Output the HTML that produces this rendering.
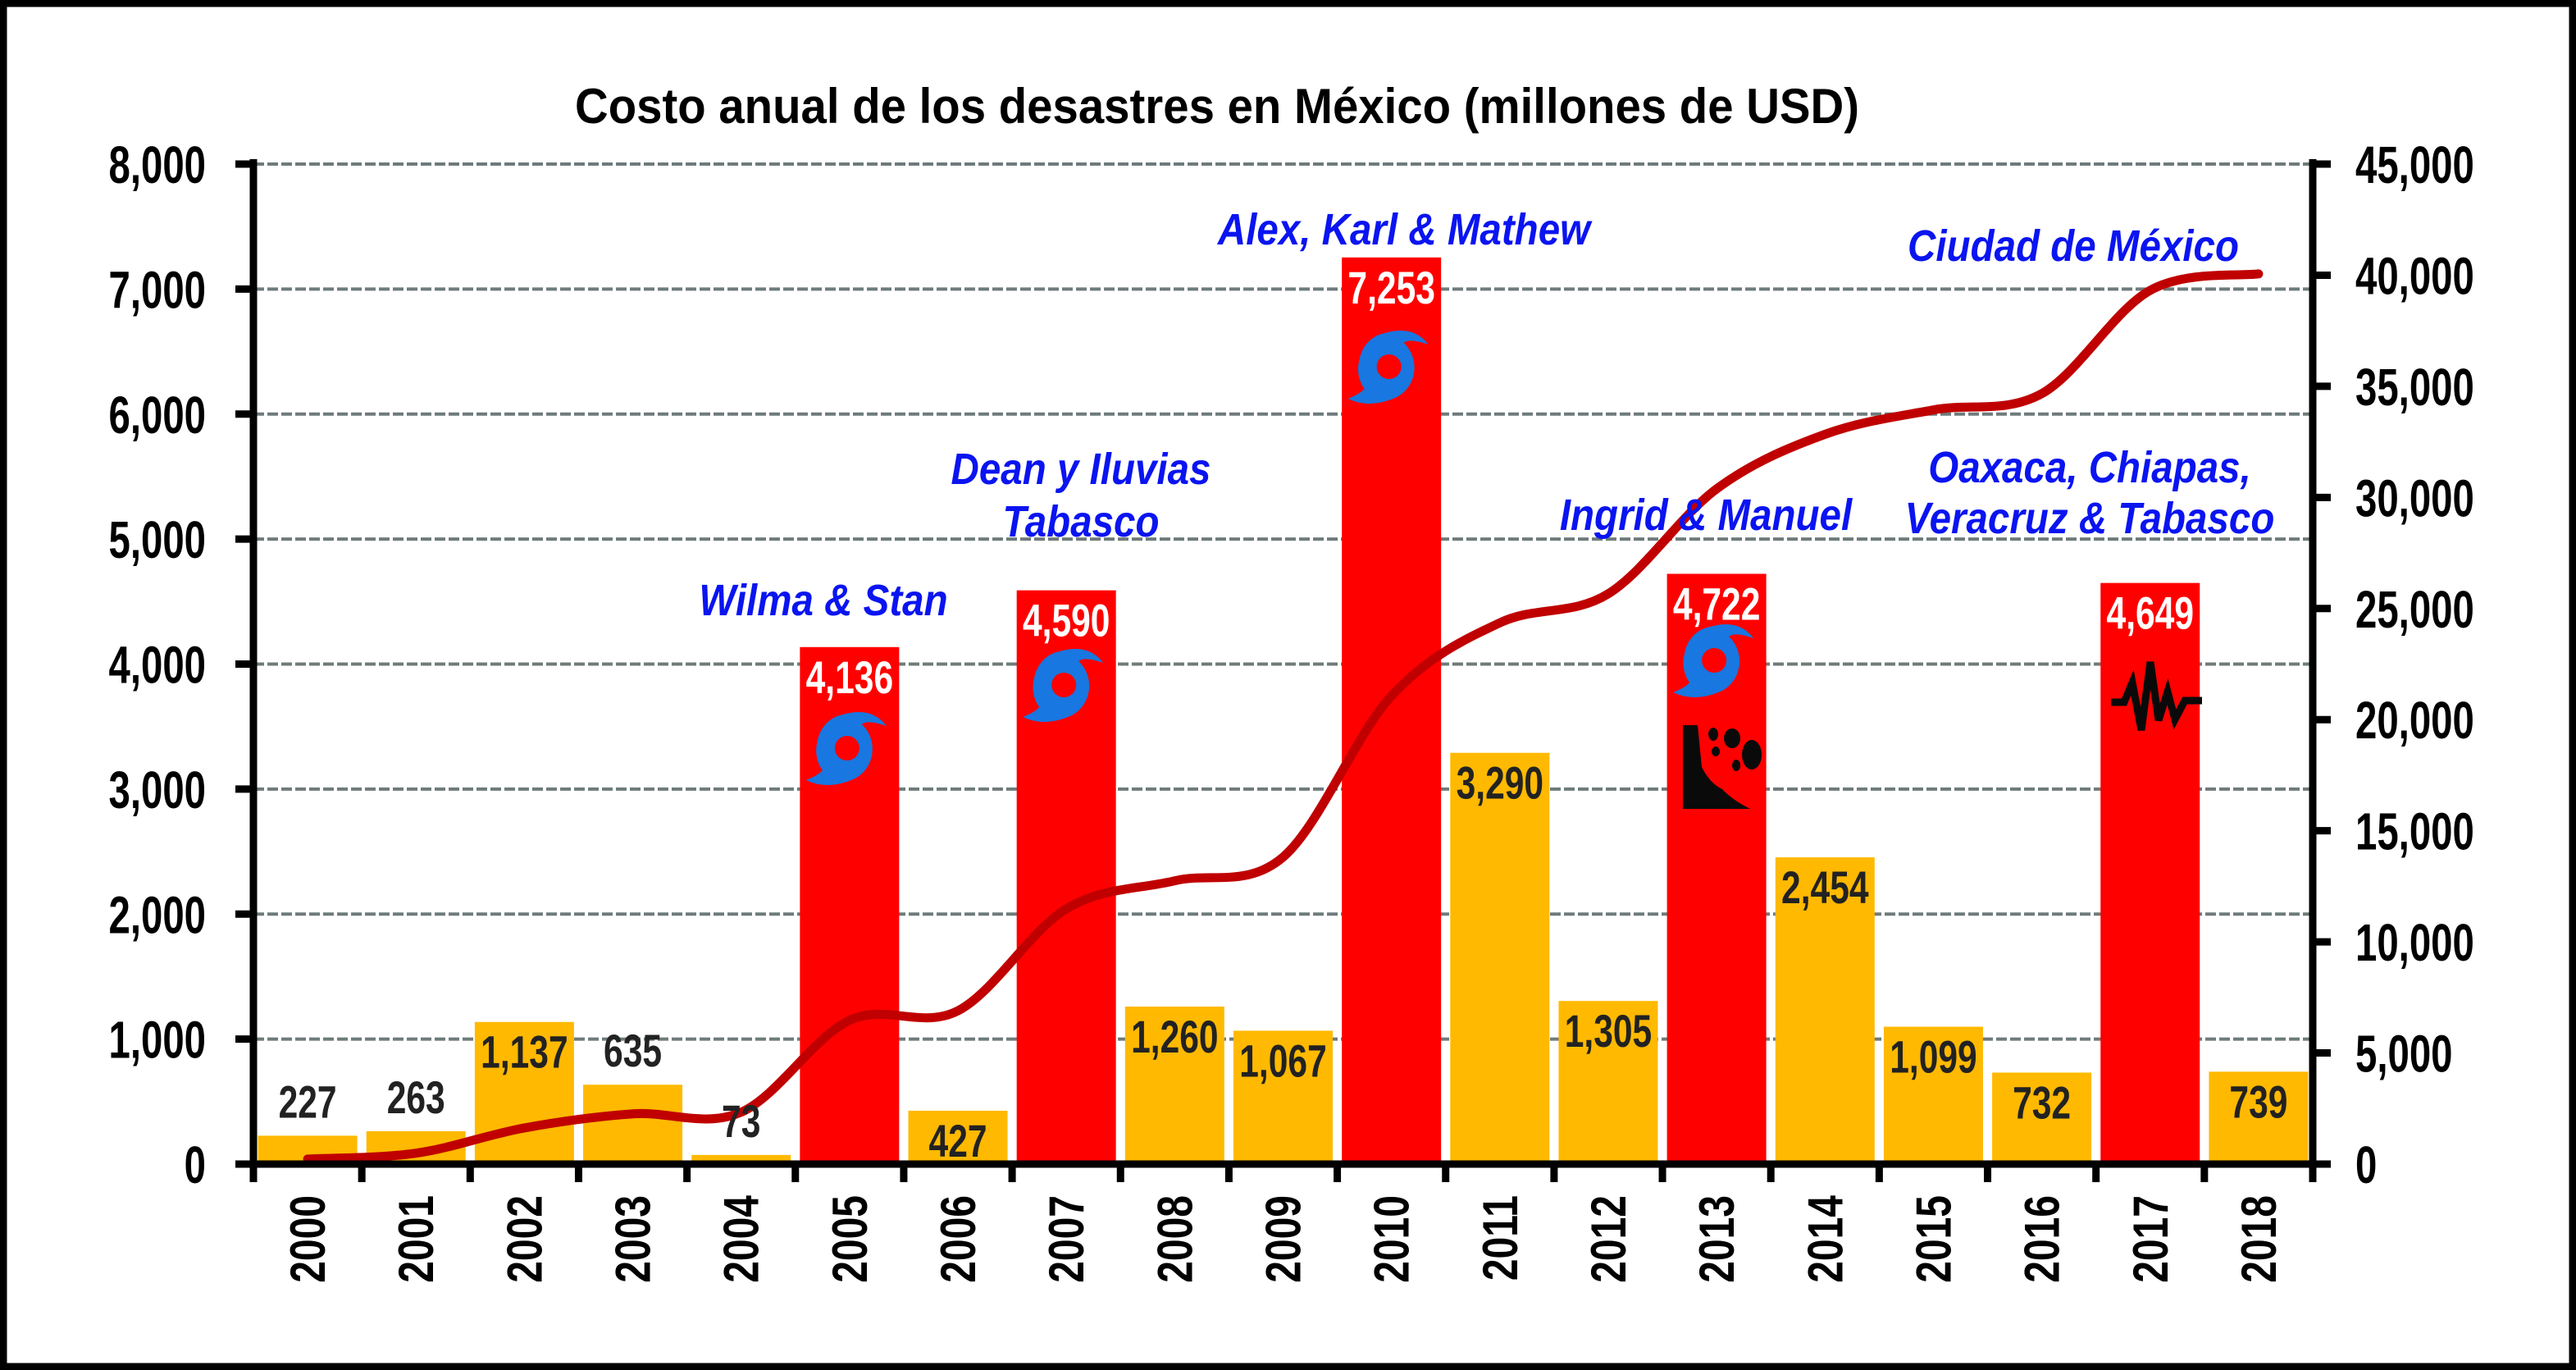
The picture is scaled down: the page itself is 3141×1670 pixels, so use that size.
<!DOCTYPE html>
<html><head><meta charset="utf-8"><style>
html,body{margin:0;padding:0;background:#fff;}
svg{display:block;}
text{font-family:"Liberation Sans",Arial,sans-serif;font-weight:bold;}
</style></head><body>
<svg id="chart" width="3141" height="1670" viewBox="0 0 3141 1670" xmlns="http://www.w3.org/2000/svg">
<rect x="4" y="4" width="3133" height="1662" fill="#fff" stroke="#000" stroke-width="9"/>
<text x="1484" y="150" font-size="60" text-anchor="middle" textLength="1566" lengthAdjust="spacingAndGlyphs">Costo anual de los desastres en México (millones de USD)</text>
<g id="grid"></g><g id="bars"></g><g id="line"></g><g id="axes"></g><g id="labels"></g><g id="icons"></g><g id="notes"></g>
</svg>
<script>
const years=["2000","2001","2002","2003","2004","2005","2006","2007","2008","2009","2010","2011","2012","2013","2014","2015","2016","2017","2018"];
const costs=[227,263,1137,635,73,4136,427,4590,1260,1067,7253,3290,1305,4722,2454,1099,732,4649,739];
const majorEvent=[0,0,0,0,0,1,0,1,0,0,1,0,0,1,0,0,0,1,0];
const labelAbove=[1,1,0,1,1,0,0,0,0,0,0,0,0,0,0,0,0,0,0];
const cumulative=[227,490,1627,2262,2335,6471,6898,11488,12748,13815,21068,24358,25663,30385,32839,33938,34670,39319,40058];
const leftTicks=[0,1000,2000,3000,4000,5000,6000,7000,8000];
const rightTicks=[0,5000,10000,15000,20000,25000,30000,35000,40000,45000];

const NS="http://www.w3.org/2000/svg";
const X0=309,X1=2820,Y0=1419,YT=200;
const cw=(X1-X0)/years.length;
const xc=i=>X0+cw*(i+0.5);
const yL=v=>Y0-(Y0-YT)*v/8000;
const yR=v=>Y0-(Y0-YT)*v/45000;
const fmt=v=>v.toLocaleString('en-US');
function mk(tag,attrs,parent){const e=document.createElementNS(NS,tag);for(const k in attrs)e.setAttribute(k,attrs[k]);document.getElementById(parent).appendChild(e);return e;}
function txt(parent,x,y,s,size,anchor,fill,sx,extra){const t=mk('text',Object.assign({transform:`translate(${x},${y}) scale(${sx},1)`,'font-size':size,'text-anchor':anchor,fill:fill},extra||{}),parent);t.textContent=s;return t;}

leftTicks.forEach(v=>{if(v===0)return;const g=mk('line',{x1:X0,x2:X1,y1:yL(v),y2:yL(v),stroke:'#6f7b7b','stroke-width':4,'stroke-dasharray':'13 4'},'grid');

});

costs.forEach((v,i)=>{const bw=121;const r=mk('rect',{x:xc(i)-bw/2,y:yL(v),width:bw,height:Y0-yL(v),fill:majorEvent[i]?'#ff0000':'#ffb900'},'bars');


let ly=labelAbove[i]?yL(v)-22:yL(v)+56;
const t=txt('labels',xc(i),ly,fmt(v),56,'middle',majorEvent[i]?'#fff':'#222',0.76);

});

const pts=cumulative.map((v,i)=>[xc(i),yR(v)]);
let d=`M${pts[0][0]},${pts[0][1]}`;
for(let i=0;i<pts.length-1;i++){const p0=pts[Math.max(0,i-1)],p1=pts[i],p2=pts[i+1],p3=pts[Math.min(pts.length-1,i+2)];
const c1=[p1[0]+(p2[0]-p0[0])/6,p1[1]+(p2[1]-p0[1])/6],c2=[p2[0]-(p3[0]-p1[0])/6,p2[1]-(p3[1]-p1[1])/6];
d+=` C${c1[0]},${c1[1]} ${c2[0]},${c2[1]} ${p2[0]},${p2[1]}`;}
const ln=mk('path',{d:d,fill:'none',stroke:'#c00000','stroke-width':11,'stroke-linecap':'round'},'line');



const ax=[['left-axis',X0,YT-6,X0,Y0+4],['right-axis',X1,YT-6,X1,Y0+4],['x-axis',X0-20,Y0,X1+4,Y0]];
ax.forEach(a=>{const l=mk('line',{x1:a[1],y1:a[2],x2:a[3],y2:a[4],stroke:'#000','stroke-width':9},'axes');

});
leftTicks.forEach(v=>{mk('line',{x1:X0-22,x2:X0,y1:yL(v),y2:yL(v),stroke:'#000','stroke-width':9},'axes');
const t=txt('labels',X0-58,yL(v)+23,fmt(v),64,'end','#000',0.74);

});
rightTicks.forEach(v=>{mk('line',{x1:X1,x2:X1+22,y1:yR(v),y2:yR(v),stroke:'#000','stroke-width':9},'axes');
const t=txt('labels',X1+52,yR(v)+23,fmt(v),64,'start','#000',0.74);

});
for(let i=0;i<=years.length;i++){mk('line',{x1:X0+cw*i,x2:X0+cw*i,y1:Y0,y2:Y0+22,stroke:'#000','stroke-width':9},'axes');}
years.forEach((y,i)=>{const t=mk('text',{transform:`translate(${xc(i)+21},1457) rotate(-90) scale(0.8,1)`,'font-size':60,'text-anchor':'end',fill:'#000'},'labels');t.textContent=y;

});

const notes=[["Wilma & Stan",1004,750],["Dean y Iluvias",1318,590],["Tabasco",1318,654],["Alex, Karl & Mathew",1712,298],["Ciudad de México",2528,318],["Ingrid & Manuel",2080,646],["Oaxaca, Chiapas,",2548,588],["Veracruz & Tabasco",2548,650]];
notes.forEach((n,k)=>{const t=txt('notes',n[1],n[2],n[0],54,'middle','#0a14f0',0.88,{'font-style':'italic'});

});

function hurricane(cx,cy,k){const g=mk('g',{transform:`translate(${cx},${cy})`},'icons');


const s=document.createElementNS(NS,'path');s.setAttribute('fill','#1877e0');
s.setAttribute('d','M-36,-10 A38,40 0 0 1 -5,-42 Q30,-52 48,-28 Q25,-36 18,-30 A38,40 0 0 1 5,38 Q-25,50 -50,38 Q-35,32 -30,26 A38,40 0 0 1 -36,-10 Z');g.appendChild(s);
const c=document.createElementNS(NS,'circle');c.setAttribute('r',15);c.setAttribute('cx',0);c.setAttribute('cy',-1);c.setAttribute('fill','#ff0000');g.appendChild(c);}
hurricane(xc(5)-3,913,1);hurricane(xc(7)-3,836,2);hurricane(xc(10)-3,448,3);hurricane(xc(13)-3,806,4);
const ls=mk('path',{fill:'#0a0a0a',d:'M2052,884 L2070,884 L2075,935 Q2085,955 2100,962 Q2112,975 2134,986 L2052,986 Z M2089,903 a6,8 0 1 1 0.1,0 Z M2112,912 a10,12 0 1 1 0.1,0 Z M2136,938 a12,18 0 1 1 0.1,0 Z M2092,922 a5,6 0 1 1 0.1,0 Z M2117,940 a5,7 0 1 1 0.1,0 Z'},'icons');


const sz=mk('polyline',{fill:'none',stroke:'#0a0a0a','stroke-width':9,points:'2574,856 2590,856 2600,832 2611,890 2622,807 2632,878 2643,843 2652,877 2664,854 2685,854'},'icons');


</script>
</body></html>
